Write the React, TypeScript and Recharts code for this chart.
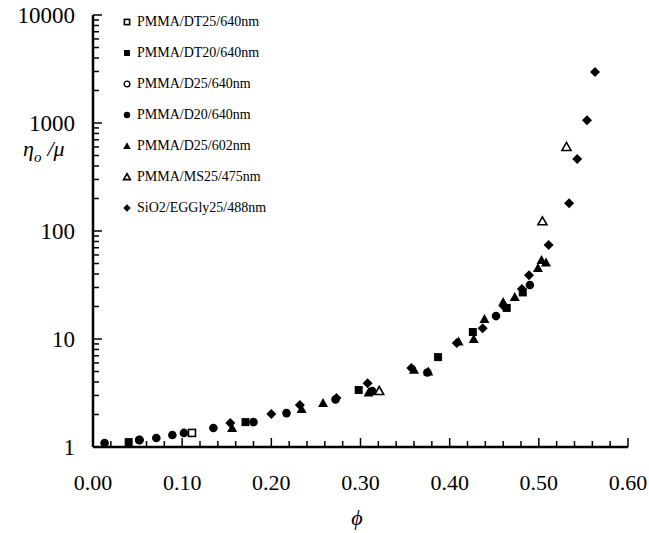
import { Legend, Scatter, ScatterChart, XAxis, YAxis } from 'recharts';

// tick positions (minor + major)
const xTicks = [0, 0.02, 0.04, 0.06, 0.08, 0.1, 0.12, 0.14, 0.16, 0.18, 0.2, 0.22, 0.24, 0.26, 0.28, 0.3,
  0.32, 0.34, 0.36, 0.38, 0.4, 0.42, 0.44, 0.46, 0.48, 0.5, 0.52, 0.54, 0.56, 0.58, 0.6];
const yTicks = [1, 2, 3, 4, 5, 6, 7, 8, 9, 10, 20, 30, 40, 50, 60, 70, 80, 90, 100, 200, 300, 400, 500, 600,
  700, 800, 900, 1000, 2000, 3000, 4000, 5000, 6000, 7000, 8000, 9000, 10000];

// series
const pmmaDT25 = [{ phi: 0.111, eta: 1.35 }];
const pmmaDT20 = [
  { phi: 0.04, eta: 1.11 }, { phi: 0.171, eta: 1.7 }, { phi: 0.298, eta: 3.37 }, { phi: 0.387, eta: 6.8 },
  { phi: 0.426, eta: 11.6 }, { phi: 0.464, eta: 19.4 }, { phi: 0.482, eta: 27 },
];
const pmmaD25 = [{ phi: 0.052, eta: 1.16 }];
const pmmaD20 = [
  { phi: 0.013, eta: 1.09 }, { phi: 0.052, eta: 1.16 }, { phi: 0.071, eta: 1.21 }, { phi: 0.089, eta: 1.29 },
  { phi: 0.102, eta: 1.35 }, { phi: 0.135, eta: 1.5 }, { phi: 0.18, eta: 1.7 }, { phi: 0.217, eta: 2.06 },
  { phi: 0.272, eta: 2.75 }, { phi: 0.313, eta: 3.3 }, { phi: 0.375, eta: 4.9 }, { phi: 0.452, eta: 16.3 },
  { phi: 0.49, eta: 31.6 },
];
const pmmaD25b = [
  { phi: 0.156, eta: 1.5 }, { phi: 0.234, eta: 2.25 }, { phi: 0.258, eta: 2.55 }, { phi: 0.309, eta: 3.2 },
  { phi: 0.36, eta: 5.2 }, { phi: 0.376, eta: 5.0 }, { phi: 0.41, eta: 9.5 }, { phi: 0.427, eta: 10 },
  { phi: 0.439, eta: 15.3 }, { phi: 0.46, eta: 22 }, { phi: 0.473, eta: 24.5 }, { phi: 0.499, eta: 45.5 },
  { phi: 0.503, eta: 54 }, { phi: 0.508, eta: 51 },
];
const pmmaMS25 = [{ phi: 0.321, eta: 3.3 }, { phi: 0.504, eta: 123 }, { phi: 0.531, eta: 600 }];
const sio2 = [
  { phi: 0.154, eta: 1.67 }, { phi: 0.2, eta: 2.02 }, { phi: 0.232, eta: 2.45 }, { phi: 0.273, eta: 2.84 },
  { phi: 0.308, eta: 3.9 }, { phi: 0.357, eta: 5.4 }, { phi: 0.408, eta: 9.2 }, { phi: 0.437, eta: 12.6 },
  { phi: 0.461, eta: 20 }, { phi: 0.481, eta: 29 }, { phi: 0.489, eta: 39 }, { phi: 0.511, eta: 74 },
  { phi: 0.534, eta: 181 }, { phi: 0.543, eta: 465 }, { phi: 0.554, eta: 1060 }, { phi: 0.563, eta: 2960 },
];

const legendItems = [
  { kind: 'sqOpen', label: 'PMMA/DT25/640nm' },
  { kind: 'sq', label: 'PMMA/DT20/640nm' },
  { kind: 'circOpen', label: 'PMMA/D25/640nm' },
  { kind: 'circ', label: 'PMMA/D20/640nm' },
  { kind: 'tri', label: 'PMMA/D25/602nm' },
  { kind: 'triOpen', label: 'PMMA/MS25/475nm' },
  { kind: 'dia', label: 'SiO2/EGGly25/488nm' },
];

const serif = '"Liberation Serif", "DejaVu Serif", serif';

const Marker = ({ kind, cx, cy, scale = 1 }: { kind: string; cx: number; cy: number; scale?: number }) => {
  const s = scale;
  switch (kind) {
    case 'sqOpen':
      return <rect x={cx - 3.5 * s} y={cy - 3.5 * s} width={7 * s} height={7 * s} fill="#fff" stroke="#000" strokeWidth={1.6} />;
    case 'sq':
      return <rect x={cx - 4 * s} y={cy - 4 * s} width={8 * s} height={8 * s} fill="#000" />;
    case 'circOpen':
      return <circle cx={cx} cy={cy} r={3.8 * s} fill="#fff" stroke="#000" strokeWidth={1.4} />;
    case 'circ':
      return <circle cx={cx} cy={cy} r={4.3 * s} fill="#000" />;
    case 'tri':
      return <path d={`M${cx},${cy - 5 * s}L${cx + 5 * s},${cy + 4 * s}L${cx - 5 * s},${cy + 4 * s}Z`} fill="#000" />;
    case 'triOpen':
      return <path d={`M${cx},${cy - 4.5 * s}L${cx + 4.5 * s},${cy + 3.5 * s}L${cx - 4.5 * s},${cy + 3.5 * s}Z`} fill="#fff" stroke="#000" strokeWidth={1.6} />;
    default:
      return <path d={`M${cx},${cy - 5 * s}L${cx + 5 * s},${cy}L${cx},${cy + 5 * s}L${cx - 5 * s},${cy}Z`} fill="#000" />;
  }
};

const shapeOf = (kind: string) => (p: any) => <Marker kind={kind} cx={p.cx} cy={p.cy} />;

const isMajorX = (v: number) => Math.abs(v * 10 - Math.round(v * 10)) < 1e-6;
const isDecade = (v: number) => Math.abs(Math.log10(v) - Math.round(Math.log10(v))) < 1e-6;

const XTick = (props: any) => {
  const { x, y, payload } = props;
  const v = Number(payload.value);
  const major = isMajorX(v);
  return (
    <g>
      <line x1={x} x2={x} y1={y} y2={y - (major ? 9 : 6)} stroke="#000" strokeWidth={1.5} />
      {major && (
        <text x={x} y={y + 43} textAnchor="middle" fontFamily={serif} fontSize={22} fill="#000">
          {v.toFixed(2)}
        </text>
      )}
    </g>
  );
};

const YTick = (props: any) => {
  const { x, y, payload } = props;
  const v = Number(payload.value);
  const major = isDecade(v);
  return (
    <g>
      <line x1={x} x2={x + (major ? 9 : 6)} y1={y} y2={y} stroke="#000" strokeWidth={1.5} />
      {major && (
        <text x={x - 18} y={y + 8} textAnchor="end" fontFamily={serif} fontSize={23} fill="#000">
          {v}
        </text>
      )}
    </g>
  );
};

const LegendBox = () => (
  <div style={{ fontFamily: serif, fontSize: 14, color: '#000' }}>
    {legendItems.map((it) => (
      <div key={it.label} style={{ display: 'flex', alignItems: 'center', height: 31 }}>
        <svg width={12} height={12} style={{ marginRight: 4 }}>
          <Marker kind={it.kind} cx={6} cy={6} scale={0.75} />
        </svg>
        <span>{it.label}</span>
      </div>
    ))}
  </div>
);

const YLabel = () => (
  <text x={23} y={156} fontFamily={serif} fontSize={22} fill="#000" fontStyle="italic">
    η
    <tspan fontSize={15} dy={6}>o</tspan>
    <tspan dy={-6} dx={6}>/μ</tspan>
  </text>
);

export default function App() {
  return (
    <div style={{ position: 'absolute', left: 0, top: 0, background: '#fff' }}>
      <ScatterChart width={649} height={533} margin={{ top: 15, right: 21, bottom: 26, left: 0 }}>
        <XAxis
          type="number"
          dataKey="phi"
          domain={[0, 0.6]}
          ticks={xTicks}
          interval={0}
          height={60}
          tickSize={0}
          tickMargin={0}
          tickLine={false}
          axisLine={{ stroke: '#000', strokeWidth: 2.5 }}
          tick={(p: any) => <XTick {...p} />}
          label={{
            content: () => (
              <text x={357} y={525} textAnchor="middle" fontFamily={serif} fontSize={22} fontStyle="italic" fill="#000">
                ϕ
              </text>
            ),
          }}
        />
        <YAxis
          type="number"
          dataKey="eta"
          scale="log"
          domain={[1, 10000]}
          ticks={yTicks}
          interval={0}
          allowDataOverflow
          width={93}
          tickSize={0}
          tickMargin={0}
          tickLine={false}
          axisLine={{ stroke: '#000', strokeWidth: 2.5 }}
          tick={(p: any) => <YTick {...p} />}
          label={{ content: () => <YLabel /> }}
        />
        <Legend
          layout="horizontal"
          verticalAlign="middle"
          align="center"
          wrapperStyle={{ left: 121, top: 6, width: 'auto', height: 'auto' }}
          content={() => <LegendBox />}
        />
        <Scatter name="PMMA/DT25/640nm" data={pmmaDT25} shape={shapeOf('sqOpen')} isAnimationActive={false} />
        <Scatter name="PMMA/DT20/640nm" data={pmmaDT20} shape={shapeOf('sq')} isAnimationActive={false} />
        <Scatter name="PMMA/D25/640nm" data={pmmaD25} shape={shapeOf('circOpen')} isAnimationActive={false} />
        <Scatter name="PMMA/D20/640nm" data={pmmaD20} shape={shapeOf('circ')} isAnimationActive={false} />
        <Scatter name="PMMA/D25/602nm" data={pmmaD25b} shape={shapeOf('tri')} isAnimationActive={false} />
        <Scatter name="PMMA/MS25/475nm" data={pmmaMS25} shape={shapeOf('triOpen')} isAnimationActive={false} />
        <Scatter name="SiO2/EGGly25/488nm" data={sio2} shape={shapeOf('dia')} isAnimationActive={false} />
      </ScatterChart>
    </div>
  );
}
